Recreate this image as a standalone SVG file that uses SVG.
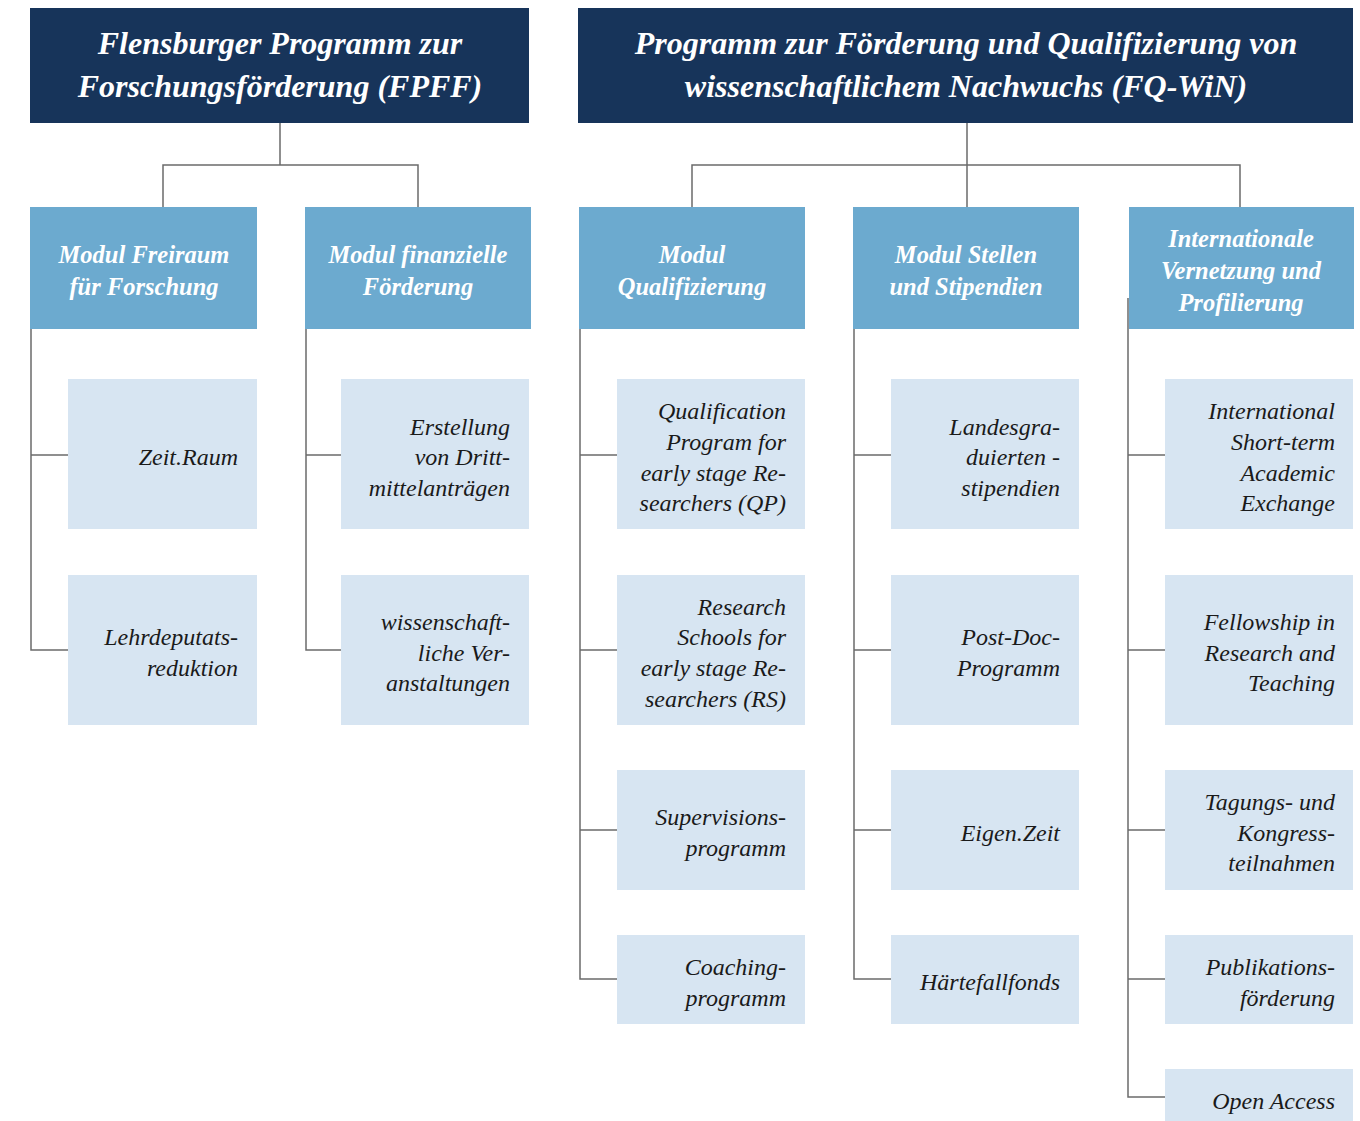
<svg xmlns="http://www.w3.org/2000/svg" width="1360" height="1121" viewBox="0 0 1360 1121">
<style>
.hdr{fill:#17345a}
.mod{fill:#6caacf}
.leaf{fill:#d7e5f2}
.ht{font-family:"Liberation Serif","DejaVu Serif",serif;font-style:italic;font-weight:bold;font-size:32px;fill:#ffffff;text-anchor:middle}
.mt{font-family:"Liberation Serif","DejaVu Serif",serif;font-style:italic;font-weight:bold;font-size:24.5px;fill:#ffffff;text-anchor:middle}
.lt{font-family:"Liberation Serif","DejaVu Serif",serif;font-style:italic;font-size:24px;fill:#1a1a1a;text-anchor:end}
.ln{fill:none;stroke:#6b6b6b;stroke-width:1.5}
</style>
<rect width="1360" height="1121" fill="#ffffff"/>
<g id="connectors">
<path class="ln" d="M280,123 V165 M163,207 V165 H418 V207"/>
<path class="ln" d="M967,123 V207 M692,207 V165 H1240 V207"/>
<path class="ln" d="M31,329 V650 H68 M31,455 H68"/>
<path class="ln" d="M306,329 V650 H341 M306,455 H341"/>
<path class="ln" d="M580,329 V979 H617 M580,455 H617 M580,650 H617 M580,830 H617"/>
<path class="ln" d="M854,329 V979 H891 M854,455 H891 M854,650 H891 M854,830 H891"/>
<path class="ln" d="M1128,298 V1097 H1165 M1128,455 H1165 M1128,650 H1165 M1128,830 H1165 M1128,979 H1165"/>
</g>
<g id="fpff"><rect class="hdr" x="30" y="8" width="499" height="115"/><text class="ht" x="280" y="54">Flensburger Programm zur</text><text class="ht" x="280" y="97">Forschungsförderung (FPFF)</text></g>
<g id="fqwin"><rect class="hdr" x="578" y="8" width="775" height="115"/><text class="ht" x="966" y="54">Programm zur Förderung und Qualifizierung von</text><text class="ht" x="966" y="97">wissenschaftlichem Nachwuchs (FQ-WiN)</text></g>
<g id="mod-freiraum"><rect class="mod" x="30" y="207" width="227" height="122"/><text class="mt" x="144" y="263">Modul Freiraum</text><text class="mt" x="144" y="295">für Forschung</text></g>
<g id="mod-finanz"><rect class="mod" x="305" y="207" width="226" height="122"/><text class="mt" x="418" y="263">Modul finanzielle</text><text class="mt" x="418" y="295">Förderung</text></g>
<g id="mod-qual"><rect class="mod" x="579" y="207" width="226" height="122"/><text class="mt" x="692" y="263">Modul</text><text class="mt" x="692" y="295">Qualifizierung</text></g>
<g id="mod-stellen"><rect class="mod" x="853" y="207" width="226" height="122"/><text class="mt" x="966" y="263">Modul Stellen</text><text class="mt" x="966" y="295">und Stipendien</text></g>
<g id="mod-intl"><rect class="mod" x="1129" y="207" width="225" height="122"/><text class="mt" x="1241" y="247">Internationale</text><text class="mt" x="1241" y="279">Vernetzung und</text><text class="mt" x="1241" y="311">Profilierung</text></g>
<g id="zeitraum"><rect class="leaf" x="68" y="379" width="189" height="150"/><text class="lt" x="238" y="465">Zeit.Raum</text></g>
<g id="lehrdeputat"><rect class="leaf" x="68" y="575" width="189" height="150"/><text class="lt" x="238" y="645">Lehrdeputats-</text><text class="lt" x="238" y="676">reduktion</text></g>
<g id="drittmittel"><rect class="leaf" x="341" y="379" width="188" height="150"/><text class="lt" x="510" y="435">Erstellung</text><text class="lt" x="510" y="465">von Dritt-</text><text class="lt" x="510" y="496">mittelanträgen</text></g>
<g id="veranstaltungen"><rect class="leaf" x="341" y="575" width="188" height="150"/><text class="lt" x="510" y="630">wissenschaft-</text><text class="lt" x="510" y="661">liche Ver-</text><text class="lt" x="510" y="691">anstaltungen</text></g>
<g id="qp"><rect class="leaf" x="617" y="379" width="188" height="150"/><text class="lt" x="786" y="419">Qualification</text><text class="lt" x="786" y="450">Program for</text><text class="lt" x="786" y="481">early stage Re-</text><text class="lt" x="786" y="511">searchers (QP)</text></g>
<g id="rs"><rect class="leaf" x="617" y="575" width="188" height="150"/><text class="lt" x="786" y="615">Research</text><text class="lt" x="786" y="645">Schools for</text><text class="lt" x="786" y="676">early stage Re-</text><text class="lt" x="786" y="707">searchers (RS)</text></g>
<g id="supervision"><rect class="leaf" x="617" y="770" width="188" height="120"/><text class="lt" x="786" y="825">Supervisions-</text><text class="lt" x="786" y="856">programm</text></g>
<g id="coaching"><rect class="leaf" x="617" y="935" width="188" height="89"/><text class="lt" x="786" y="975">Coaching-</text><text class="lt" x="786" y="1006">programm</text></g>
<g id="landesgrad"><rect class="leaf" x="891" y="379" width="188" height="150"/><text class="lt" x="1060" y="435">Landesgra-</text><text class="lt" x="1060" y="465">duierten -</text><text class="lt" x="1060" y="496">stipendien</text></g>
<g id="postdoc"><rect class="leaf" x="891" y="575" width="188" height="150"/><text class="lt" x="1060" y="645">Post-Doc-</text><text class="lt" x="1060" y="676">Programm</text></g>
<g id="eigenzeit"><rect class="leaf" x="891" y="770" width="188" height="120"/><text class="lt" x="1060" y="841">Eigen.Zeit</text></g>
<g id="haertefall"><rect class="leaf" x="891" y="935" width="188" height="89"/><text class="lt" x="1060" y="990">Härtefallfonds</text></g>
<g id="isae"><rect class="leaf" x="1165" y="379" width="188" height="150"/><text class="lt" x="1335" y="419">International</text><text class="lt" x="1335" y="450">Short-term</text><text class="lt" x="1335" y="481">Academic</text><text class="lt" x="1335" y="511">Exchange</text></g>
<g id="fellowship"><rect class="leaf" x="1165" y="575" width="188" height="150"/><text class="lt" x="1335" y="630">Fellowship in</text><text class="lt" x="1335" y="661">Research and</text><text class="lt" x="1335" y="691">Teaching</text></g>
<g id="tagungen"><rect class="leaf" x="1165" y="770" width="188" height="120"/><text class="lt" x="1335" y="810">Tagungs- und</text><text class="lt" x="1335" y="841">Kongress-</text><text class="lt" x="1335" y="871">teilnahmen</text></g>
<g id="publikation"><rect class="leaf" x="1165" y="935" width="188" height="89"/><text class="lt" x="1335" y="975">Publikations-</text><text class="lt" x="1335" y="1006">förderung</text></g>
<g id="openaccess"><rect class="leaf" x="1165" y="1069" width="188" height="52"/><text class="lt" x="1335" y="1109">Open Access</text></g>
</svg>
